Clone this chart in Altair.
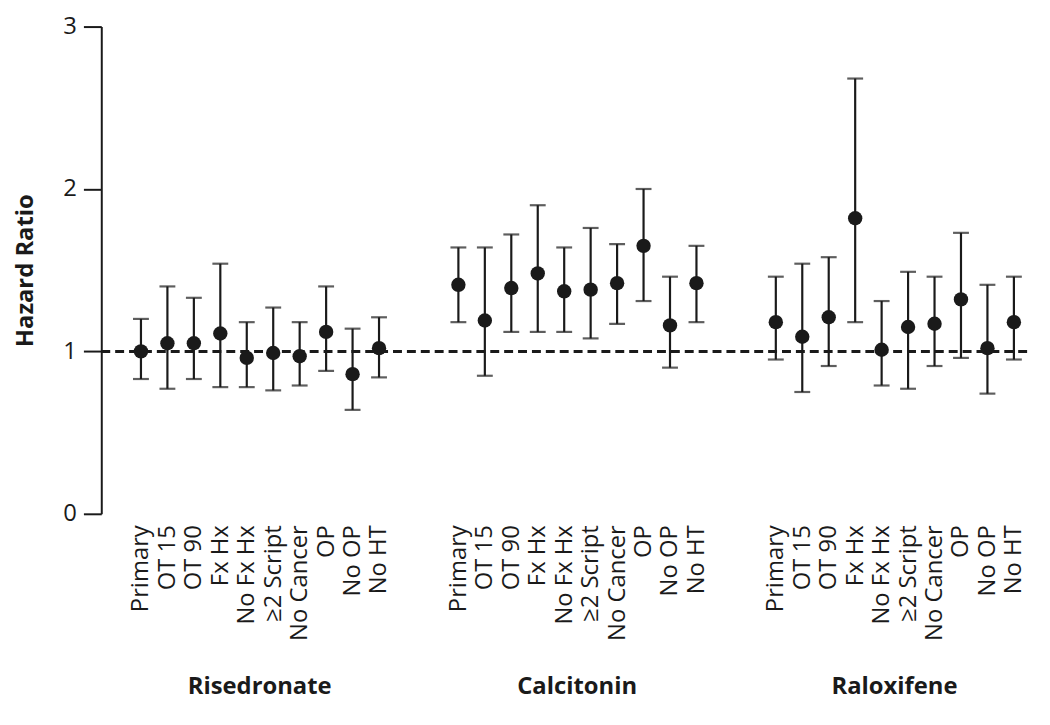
import altair as alt
import pandas as pd

groups = ["Risedronate", "Calcitonin", "Raloxifene"]
analyses = ["Primary", "OT 15", "OT 90", "Fx Hx", "No Fx Hx", "≥2 Script",
            "No Cancer", "OP", "No OP", "No HT"]

ris_hr = [1.00, 1.05, 1.05, 1.11, 0.96, 0.99, 0.97, 1.12, 0.86, 1.02]
ris_lo = [0.83, 0.77, 0.83, 0.78, 0.78, 0.76, 0.79, 0.88, 0.64, 0.84]
ris_hi = [1.20, 1.40, 1.33, 1.54, 1.18, 1.27, 1.18, 1.40, 1.14, 1.21]

cal_hr = [1.41, 1.19, 1.39, 1.48, 1.37, 1.38, 1.42, 1.65, 1.16, 1.42]
cal_lo = [1.18, 0.85, 1.12, 1.12, 1.12, 1.08, 1.17, 1.31, 0.90, 1.18]
cal_hi = [1.64, 1.64, 1.72, 1.90, 1.64, 1.76, 1.66, 2.00, 1.46, 1.65]

ral_hr = [1.18, 1.09, 1.21, 1.82, 1.01, 1.15, 1.17, 1.32, 1.02, 1.18]
ral_lo = [0.95, 0.75, 0.91, 1.18, 0.79, 0.77, 0.91, 0.96, 0.74, 0.95]
ral_hi = [1.46, 1.54, 1.58, 2.68, 1.31, 1.49, 1.46, 1.73, 1.41, 1.46]

series = {
    "Risedronate": (ris_hr, ris_lo, ris_hi),
    "Calcitonin": (cal_hr, cal_lo, cal_hi),
    "Raloxifene": (ral_hr, ral_lo, ral_hi),
}

rows = []
domain = []
for gi, g in enumerate(groups):
    if gi > 0:
        domain += [f"gap{gi}a", f"gap{gi}b"]
    hr, lo, hi = series[g]
    for a, h, l, u in zip(analyses, hr, lo, hi):
        key = f"{g}|{a}"
        domain.append(key)
        rows.append({"key": key, "group": g, "analysis": a, "hr": h, "lo": l, "hi": u})
df = pd.DataFrame(rows)

titles = pd.DataFrame({"group": groups, "key": [f"{g}|No Fx Hx" for g in groups]})

FONT = "Open Sans"
INK = "#1a1a1a"

x_enc = alt.X(
    "key:N",
    sort=domain,
    scale=alt.Scale(type="point", domain=domain, padding=1, align=0.75),
    axis=alt.Axis(
        title=None, domain=False, ticks=False, tickSize=0, labelAngle=-90,
        labelAlign="right", labelBaseline="middle", labelPadding=11,
        labelFontSize=24, labelFont=FONT, labelColor=INK, labelLimit=300,
        labelExpr="indexof(datum.label, '|') > 0 ? split(datum.label, '|')[1] : ''",
    ),
)

y_scale = alt.Scale(domain=[0, 3], nice=False, zero=True)
y_axis = alt.Axis(
    title="Hazard Ratio", values=[0, 1, 2, 3], grid=False, domainColor=INK,
    domainWidth=2, tickColor=INK, tickWidth=2, tickSize=18, labelPadding=7,
    labelFontSize=24, labelFont=FONT, labelColor=INK, titleFont=FONT,
    titleFontSize=24, titleFontWeight="bold", titleColor=INK, titlePadding=26,
)

base = alt.Chart(df)

ref = alt.Chart(pd.DataFrame({"v": [1]})).mark_rule(
    color=INK, strokeWidth=3, strokeDash=[9, 5]
).encode(y=alt.Y("v:Q", scale=y_scale, axis=y_axis))

bars = base.mark_rule(color=INK, strokeWidth=2.2).encode(
    x=x_enc, y=alt.Y("lo:Q", scale=y_scale, axis=y_axis), y2="hi:Q"
)
cap_hi = base.mark_tick(color=INK, size=16, thickness=2.2).encode(
    x=x_enc, y=alt.Y("hi:Q", scale=y_scale, axis=y_axis)
)
cap_lo = base.mark_tick(color=INK, size=16, thickness=2.2).encode(
    x=x_enc, y=alt.Y("lo:Q", scale=y_scale, axis=y_axis)
)
pts = base.mark_circle(color=INK, size=210, opacity=1).encode(
    x=x_enc, y=alt.Y("hr:Q", scale=y_scale, axis=y_axis)
)
labels = alt.Chart(titles).mark_text(
    font=FONT, fontSize=24, fontWeight="bold", color=INK,
    align="center", baseline="middle", dx=13,
).encode(x=x_enc, y=alt.value(666), text="group:N")

chart = alt.layer(ref, bars, cap_hi, cap_lo, pts, labels).properties(
    width=933, height=491,
    autosize=alt.AutoSizeParams(type="none"),
    padding={"left": 94, "top": 16, "right": 15, "bottom": 196},
    background="white",
).configure_view(strokeWidth=0, stroke=None)

chart.save("out.html", embed_options={"renderer": "svg", "actions": False})
